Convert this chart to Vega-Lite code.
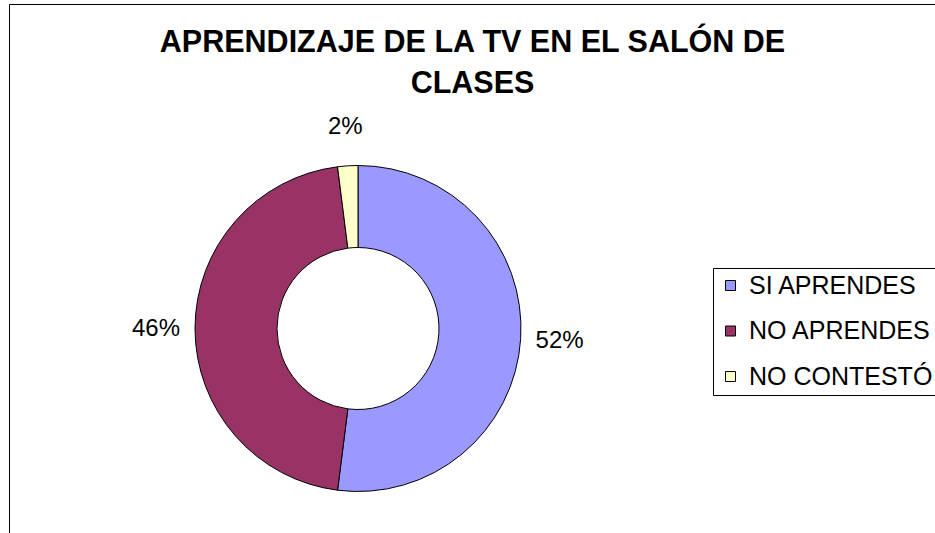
{
  "$schema": "https://vega.github.io/schema/vega-lite/v6.json",
  "width": 927,
  "height": 540,
  "autosize": "none",
  "padding": {"left": 9, "top": 4, "right": 0, "bottom": 0},
  "background": "white",
  "view": {"stroke": "black", "strokeWidth": 1, "fill": "white"},
  "config": {
    "view": {"stroke": "black", "strokeWidth": 1},
    "font": "Liberation Sans"
  },
  "title": {
    "text": ["APRENDIZAJE DE LA TV EN EL SALÓN DE", "CLASES"],
    "anchor": "middle",
    "frame": "group",
    "orient": "top",
    "offset": 0,
    "baseline": "alphabetic",
    "dy": 119,
    "lineHeight": 41,
    "font": "Liberation Sans",
    "fontSize": 30.5,
    "fontWeight": "bold",
    "color": "black"
  },
  "data": {
    "values": [
      {"idx": 1, "categoria": "SI APRENDES", "valor": 0.52},
      {"idx": 2, "categoria": "NO APRENDES", "valor": 0.46},
      {"idx": 3, "categoria": "NO CONTESTÓ", "valor": 0.02}
    ]
  },
  "encoding": {
    "theta": {"field": "valor", "type": "quantitative", "stack": true},
    "order": {"field": "idx", "type": "quantitative"}
  },
  "layer": [
    {
      "mark": {"type": "arc", "x": 349, "y": 324.5, "outerRadius": 163, "innerRadius": 81, "stroke": "black", "strokeWidth": 1},
      "encoding": {
        "color": {
          "field": "categoria",
          "type": "nominal",
          "scale": {"domain": ["SI APRENDES", "NO APRENDES", "NO CONTESTÓ"], "range": ["#9999FF", "#993366", "#FFFFCC"]},
          "legend": {
            "title": null,
            "orient": "none",
            "legendX": 704,
            "legendY": 264,
            "padding": 5,
            "strokeColor": "black",
            "fillColor": "white",
            "symbolType": "square",
            "symbolSize": 100,
            "symbolStrokeColor": "black",
            "symbolStrokeWidth": 1,
            "symbolOpacity": 1,
            "labelFontSize": 25,
            "labelFont": "Liberation Sans",
            "labelColor": "black",
            "labelOffset": 6,
            "labelLimit": 400,
            "rowPadding": 19.5
          }
        }
      }
    },
    {
      "mark": {"type": "text", "x": 349, "y": 324.5, "radius": 202, "fontSize": 24, "font": "Liberation Sans", "color": "black", "baseline": "middle", "align": "center"},
      "encoding": {
        "text": {"field": "valor", "type": "quantitative", "format": ".0%"}
      }
    }
  ]
}
